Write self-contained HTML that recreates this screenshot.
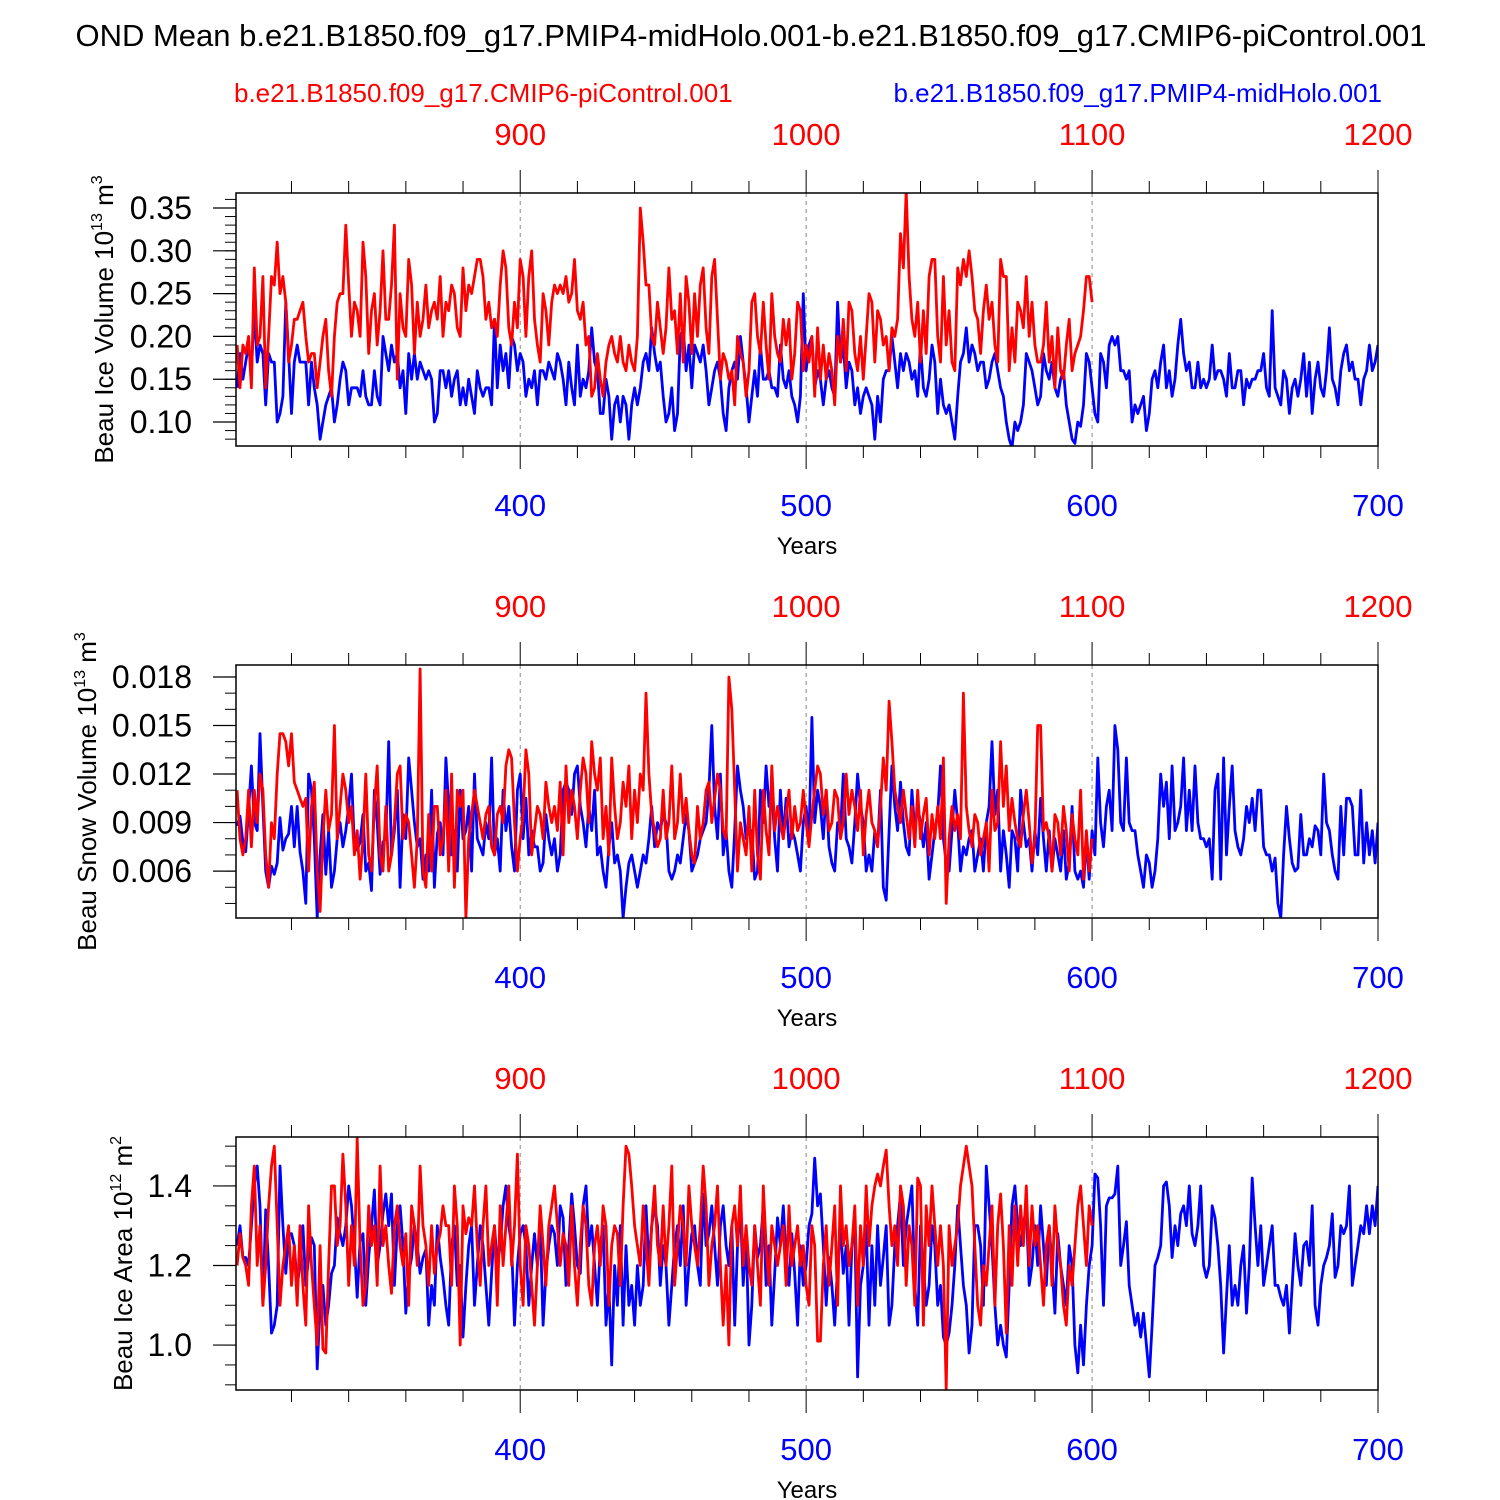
<!DOCTYPE html>
<html><head><meta charset="utf-8"><style>
html,body{margin:0;padding:0;background:#fff}
svg{display:block;font-family:"Liberation Sans",Arial,sans-serif}
</style></head><body>
<svg id="chart" width="1500" height="1500" viewBox="0 0 1500 1500" xmlns="http://www.w3.org/2000/svg">
<text x="751" y="46" font-size="31" text-anchor="middle">OND Mean b.e21.B1850.f09_g17.PMIP4-midHolo.001-b.e21.B1850.f09_g17.CMIP6-piControl.001</text>
<text x="234" y="102" font-size="26" fill="#ff0000">b.e21.B1850.f09_g17.CMIP6-piControl.001</text>
<text x="1382" y="102" font-size="26" fill="#0000ff" text-anchor="end">b.e21.B1850.f09_g17.PMIP4-midHolo.001</text>
<g id="plots"></g>
</svg>
<script>
const iceVolBlue=[0.14,0.18,0.15,0.17,0.19,0.16,0.23,0.17,0.19,0.18,0.12,0.18,0.17,0.17,0.10,0.11,0.13,0.24,0.18,0.11,0.17,0.19,0.17,0.17,0.17,0.12,0.17,0.14,0.12,0.08,0.10,0.12,0.13,0.14,0.10,0.12,0.15,0.17,0.16,0.12,0.14,0.14,0.14,0.13,0.16,0.13,0.12,0.12,0.16,0.13,0.12,0.20,0.18,0.16,0.19,0.17,0.18,0.14,0.16,0.11,0.18,0.15,0.18,0.15,0.17,0.16,0.15,0.16,0.15,0.10,0.11,0.16,0.16,0.14,0.16,0.13,0.15,0.16,0.12,0.14,0.12,0.15,0.13,0.11,0.16,0.14,0.13,0.14,0.14,0.12,0.22,0.14,0.19,0.16,0.18,0.14,0.20,0.19,0.16,0.18,0.17,0.13,0.15,0.14,0.16,0.12,0.16,0.16,0.15,0.17,0.16,0.15,0.18,0.17,0.15,0.12,0.17,0.14,0.12,0.19,0.13,0.15,0.14,0.16,0.21,0.17,0.16,0.11,0.11,0.15,0.13,0.08,0.12,0.13,0.10,0.13,0.12,0.08,0.12,0.14,0.12,0.14,0.17,0.18,0.16,0.21,0.18,0.16,0.17,0.13,0.10,0.11,0.14,0.09,0.11,0.20,0.21,0.16,0.19,0.14,0.19,0.18,0.17,0.19,0.16,0.12,0.14,0.16,0.17,0.15,0.11,0.09,0.14,0.16,0.17,0.15,0.20,0.17,0.14,0.10,0.13,0.16,0.13,0.19,0.15,0.15,0.16,0.14,0.14,0.13,0.19,0.15,0.14,0.16,0.13,0.12,0.10,0.13,0.25,0.16,0.19,0.20,0.14,0.16,0.15,0.12,0.15,0.16,0.14,0.13,0.24,0.17,0.19,0.14,0.17,0.16,0.12,0.14,0.11,0.13,0.14,0.13,0.12,0.08,0.13,0.10,0.15,0.16,0.16,0.20,0.17,0.14,0.18,0.16,0.18,0.17,0.15,0.16,0.13,0.19,0.14,0.13,0.15,0.19,0.17,0.11,0.15,0.12,0.11,0.12,0.10,0.08,0.13,0.17,0.18,0.21,0.17,0.19,0.18,0.16,0.17,0.17,0.14,0.15,0.17,0.18,0.16,0.14,0.13,0.10,0.08,0.07,0.10,0.09,0.10,0.12,0.18,0.17,0.16,0.14,0.12,0.13,0.18,0.16,0.15,0.17,0.14,0.13,0.15,0.16,0.12,0.10,0.08,0.075,0.10,0.095,0.12,0.18,0.17,0.14,0.11,0.10,0.18,0.17,0.14,0.19,0.20,0.19,0.20,0.16,0.16,0.15,0.16,0.10,0.12,0.11,0.12,0.13,0.09,0.11,0.15,0.16,0.14,0.17,0.19,0.14,0.16,0.13,0.15,0.19,0.22,0.18,0.16,0.17,0.14,0.14,0.17,0.14,0.15,0.14,0.15,0.19,0.15,0.16,0.16,0.15,0.13,0.18,0.14,0.14,0.16,0.16,0.12,0.15,0.14,0.15,0.15,0.16,0.16,0.18,0.14,0.13,0.23,0.14,0.13,0.12,0.16,0.15,0.11,0.14,0.15,0.13,0.15,0.18,0.13,0.17,0.11,0.15,0.17,0.14,0.13,0.16,0.21,0.15,0.14,0.12,0.16,0.18,0.19,0.16,0.17,0.15,0.15,0.12,0.15,0.16,0.19,0.16,0.17,0.19];
const iceVolRed=[0.19,0.14,0.19,0.18,0.20,0.14,0.28,0.19,0.20,0.27,0.14,0.20,0.27,0.26,0.31,0.25,0.27,0.24,0.17,0.19,0.22,0.22,0.23,0.24,0.20,0.17,0.18,0.18,0.14,0.17,0.20,0.22,0.16,0.13,0.20,0.24,0.25,0.25,0.33,0.26,0.20,0.24,0.23,0.20,0.31,0.27,0.18,0.23,0.25,0.19,0.23,0.30,0.22,0.22,0.26,0.33,0.15,0.25,0.21,0.20,0.29,0.26,0.18,0.24,0.20,0.22,0.26,0.21,0.23,0.24,0.22,0.27,0.20,0.24,0.23,0.26,0.25,0.21,0.20,0.28,0.23,0.26,0.25,0.27,0.29,0.29,0.27,0.22,0.24,0.21,0.22,0.20,0.26,0.30,0.28,0.21,0.19,0.24,0.21,0.29,0.27,0.20,0.27,0.30,0.22,0.19,0.17,0.25,0.23,0.19,0.24,0.26,0.25,0.26,0.25,0.27,0.24,0.25,0.29,0.23,0.22,0.24,0.19,0.20,0.13,0.14,0.18,0.15,0.13,0.17,0.19,0.20,0.18,0.17,0.20,0.17,0.16,0.19,0.17,0.16,0.20,0.35,0.31,0.26,0.26,0.20,0.19,0.24,0.21,0.18,0.21,0.28,0.22,0.23,0.18,0.25,0.17,0.27,0.24,0.18,0.25,0.20,0.26,0.28,0.21,0.18,0.27,0.29,0.22,0.15,0.18,0.17,0.15,0.16,0.12,0.20,0.18,0.17,0.13,0.16,0.24,0.25,0.20,0.18,0.24,0.19,0.15,0.25,0.20,0.18,0.17,0.22,0.19,0.22,0.15,0.18,0.24,0.23,0.16,0.19,0.17,0.20,0.13,0.21,0.15,0.19,0.15,0.18,0.16,0.12,0.20,0.17,0.22,0.16,0.24,0.23,0.18,0.16,0.20,0.15,0.20,0.25,0.24,0.17,0.23,0.22,0.19,0.20,0.16,0.21,0.20,0.22,0.32,0.28,0.37,0.27,0.22,0.20,0.24,0.17,0.23,0.18,0.27,0.29,0.29,0.20,0.17,0.27,0.19,0.23,0.17,0.16,0.28,0.26,0.29,0.27,0.30,0.27,0.23,0.22,0.18,0.23,0.26,0.22,0.24,0.19,0.17,0.29,0.27,0.27,0.16,0.21,0.17,0.24,0.23,0.21,0.27,0.20,0.24,0.19,0.17,0.17,0.19,0.24,0.17,0.20,0.14,0.21,0.16,0.15,0.19,0.22,0.16,0.18,0.19,0.20,0.23,0.27,0.27,0.24];
const snowBlue=[.0088,.0094,.0078,.0072,.0098,.0125,.0090,.0085,.0145,.0100,.0060,.0050,.0063,.0058,.0065,.0093,.0073,.0080,.0083,.0100,.0075,.0100,.0072,.0060,.0040,.0120,.0110,.0080,.0031,.0070,.0095,.0058,.0085,.0050,.0060,.0080,.0090,.0075,.0085,.0100,.0120,.0075,.0073,.0078,.0095,.0060,.0065,.0048,.0110,.0090,.0058,.0078,.0080,.0140,.0070,.0085,.0110,.0050,.0095,.0080,.0130,.0110,.0090,.0075,.0080,.0055,.0070,.0060,.0110,.0050,.0083,.0090,.0070,.0130,.0100,.0070,.0085,.0060,.0110,.0080,.0085,.0100,.0060,.0120,.0080,.0075,.0070,.0090,.0080,.0130,.0070,.0080,.0060,.0110,.0085,.0100,.0075,.0060,.0110,.0120,.0080,.0105,.0070,.0085,.0075,.0075,.0060,.0065,.0095,.0080,.0070,.0080,.0060,.0070,.0110,.0115,.0110,.0095,.0120,.0125,.0100,.0090,.0075,.0100,.0085,.0110,.0070,.0075,.0060,.0050,.0075,.0090,.0065,.0070,.0060,.0031,.0050,.0065,.0070,.0060,.0050,.0060,.0070,.0065,.0080,.0100,.0075,.0090,.0085,.0095,.0090,.0060,.0055,.0060,.0070,.0065,.0080,.0095,.0085,.0060,.0065,.0070,.0080,.0085,.0090,.0110,.0150,.0100,.0080,.0120,.0070,.0085,.0060,.0050,.0085,.0125,.0110,.0100,.0080,.0085,.0085,.0055,.0060,.0110,.0090,.0125,.0100,.0110,.0080,.0060,.0110,.0080,.0105,.0075,.0085,.0080,.0070,.0060,.0090,.0100,.0080,.0155,.0090,.0110,.0100,.0080,.0110,.0075,.0065,.0060,.0090,.0085,.0120,.0080,.0075,.0065,.0090,.0120,.0100,.0090,.0060,.0070,.0060,.0085,.0075,.0110,.0050,.0042,.0085,.0125,.0100,.0085,.0115,.0090,.0075,.0070,.0110,.0085,.0100,.0090,.0075,.0090,.0055,.0070,.0085,.0095,.0125,.0080,.0065,.0060,.0085,.0110,.0090,.0060,.0075,.0070,.0080,.0085,.0060,.0070,.0080,.0060,.0090,.0100,.0140,.0095,.0110,.0060,.0085,.0070,.0050,.0085,.0080,.0060,.0110,.0090,.0075,.0080,.0060,.0085,.0070,.0105,.0080,.0060,.0085,.0060,.0080,.0070,.0060,.0085,.0055,.0065,.0100,.0060,.0055,.0060,.0050,.0080,.0055,.0085,.0070,.0130,.0090,.0075,.0100,.0110,.0085,.0150,.0135,.0090,.0085,.0130,.0090,.0085,.0085,.0070,.0060,.0050,.0070,.0065,.0050,.0060,.0080,.0120,.0100,.0115,.0080,.0125,.0085,.0090,.0100,.0130,.0085,.0110,.0085,.0125,.0090,.0080,.0080,.0075,.0080,.0055,.0110,.0120,.0055,.0130,.0070,.0100,.0125,.0085,.0075,.0070,.0080,.0100,.0090,.0105,.0085,.0110,.0110,.0075,.0070,.0070,.0060,.0068,.0040,.0031,.0070,.0100,.0080,.0065,.0060,.0062,.0095,.0070,.0070,.0080,.0075,.0088,.0085,.0070,.0120,.0090,.0085,.0070,.0060,.0055,.0100,.0070,.0105,.0105,.0100,.0070,.0070,.0110,.0065,.0090,.0070,.0085,.0065,.0090];
const snowRed=[.0110,.0080,.0070,.0080,.0110,.0075,.0110,.0090,.0120,.0110,.0070,.0050,.0090,.0080,.0120,.0145,.0145,.0140,.0125,.0145,.0115,.0110,.0105,.0100,.0105,.0060,.0100,.0115,.0060,.0035,.0080,.0110,.0085,.0095,.0150,.0080,.0100,.0120,.0110,.0090,.0100,.0070,.0085,.0055,.0080,.0120,.0070,.0060,.0100,.0125,.0070,.0060,.0100,.0060,.0070,.0090,.0120,.0125,.0080,.0095,.0090,.0070,.0050,.0080,.0185,.0060,.0050,.0095,.0060,.0100,.0100,.0070,.0080,.0110,.0060,.0120,.0050,.0110,.0100,.0110,.0031,.0080,.0095,.0110,.0100,.0090,.0080,.0095,.0100,.0075,.0070,.0095,.0100,.0090,.0125,.0135,.0130,.0090,.0060,.0080,.0095,.0135,.0120,.0070,.0085,.0100,.0095,.0080,.0115,.0100,.0090,.0100,.0085,.0115,.0070,.0125,.0090,.0110,.0100,.0080,.0110,.0130,.0120,.0090,.0140,.0120,.0110,.0130,.0080,.0100,.0070,.0130,.0100,.0080,.0090,.0115,.0100,.0125,.0080,.0110,.0090,.0120,.0110,.0170,.0120,.0095,.0085,.0075,.0080,.0110,.0080,.0090,.0125,.0080,.0090,.0120,.0090,.0105,.0085,.0070,.0065,.0100,.0080,.0090,.0110,.0115,.0090,.0105,.0120,.0110,.0085,.0080,.0180,.0160,.0110,.0060,.0090,.0080,.0070,.0100,.0060,.0110,.0070,.0055,.0110,.0085,.0070,.0125,.0085,.0100,.0090,.0080,.0095,.0110,.0080,.0100,.0085,.0090,.0110,.0090,.0075,.0095,.0110,.0125,.0120,.0095,.0110,.0085,.0090,.0110,.0105,.0080,.0090,.0120,.0095,.0110,.0100,.0085,.0110,.0070,.0095,.0110,.0090,.0085,.0075,.0100,.0130,.0110,.0165,.0140,.0110,.0100,.0090,.0110,.0095,.0080,.0100,.0075,.0110,.0080,.0095,.0105,.0070,.0095,.0080,.0100,.0080,.0130,.0040,.0080,.0100,.0085,.0095,.0080,.0170,.0100,.0085,.0075,.0095,.0090,.0070,.0080,.0090,.0060,.0110,.0085,.0090,.0140,.0100,.0125,.0085,.0105,.0090,.0080,.0075,.0095,.0110,.0090,.0065,.0080,.0150,.0150,.0085,.0090,.0080,.0060,.0095,.0090,.0070,.0100,.0085,.0060,.0095,.0080,.0070,.0110,.0055,.0085,.0060,.0080];
const areaBlue=[1.25,1.30,1.22,1.22,1.20,1.30,1.40,1.45,1.35,1.10,1.34,1.20,1.03,1.05,1.10,1.45,1.30,1.18,1.28,1.28,1.25,1.15,1.20,1.30,1.15,1.22,1.27,1.25,0.94,1.10,1.15,1.05,1.10,1.18,1.20,1.32,1.28,1.25,1.30,1.40,1.35,1.25,1.12,1.26,1.28,1.10,1.22,1.30,1.39,1.20,1.25,1.33,1.38,1.30,1.38,1.15,1.30,1.35,1.25,1.08,1.18,1.22,1.30,1.25,1.18,1.22,1.24,1.05,1.15,1.10,1.30,1.22,1.17,1.10,1.05,1.25,1.30,1.15,1.20,1.02,1.15,1.25,1.30,1.10,1.20,1.30,1.25,1.15,1.05,1.18,1.30,1.20,1.25,1.35,1.40,1.30,1.25,1.05,1.20,1.28,1.30,1.25,1.10,1.20,1.28,1.20,1.30,1.05,1.18,1.25,1.30,1.28,1.20,1.35,1.32,1.15,1.25,1.38,1.30,1.20,1.18,1.35,1.40,1.25,1.30,1.20,1.10,1.25,1.30,1.05,1.15,0.95,1.20,1.10,1.30,1.05,1.25,1.10,1.15,1.05,1.20,1.10,1.15,1.35,1.20,1.30,1.35,1.30,1.15,1.25,1.20,1.05,1.15,1.25,1.30,1.20,1.35,1.10,1.20,1.28,1.30,1.20,1.15,1.38,1.25,1.28,1.35,1.25,1.15,1.30,1.35,1.25,1.20,1.30,1.05,1.25,1.35,1.15,1.28,1.00,1.10,1.30,1.22,1.25,1.35,1.15,1.25,1.05,1.18,1.32,1.25,1.35,1.22,1.15,1.28,1.18,1.05,1.25,1.15,1.20,1.30,1.33,1.47,1.35,1.38,1.25,1.10,1.22,1.15,1.05,1.20,1.30,1.18,1.25,1.05,1.25,1.30,0.92,1.15,1.20,1.30,1.05,1.25,1.10,1.30,1.15,1.22,1.30,1.05,1.10,1.25,1.30,1.38,1.20,1.30,1.35,1.40,1.15,1.05,1.30,1.20,1.10,1.15,1.30,1.25,1.10,1.15,1.02,1.00,1.03,1.10,1.20,1.35,1.25,1.15,1.10,0.98,1.05,1.30,1.30,1.25,1.10,1.45,1.35,1.25,1.10,1.00,1.05,1.00,0.97,1.15,1.35,1.40,1.30,1.25,1.30,1.35,1.15,1.20,1.30,1.20,1.35,1.25,1.15,1.30,1.20,1.08,1.28,1.20,1.15,1.10,1.25,1.20,1.00,0.93,1.05,0.95,1.10,1.20,1.25,1.43,1.42,1.30,1.10,1.35,1.37,1.37,1.38,1.45,1.20,1.25,1.31,1.15,1.10,1.05,1.08,1.02,1.08,1.00,0.92,1.05,1.20,1.22,1.25,1.40,1.41,1.35,1.22,1.30,1.25,1.33,1.35,1.30,1.40,1.28,1.25,1.30,1.40,1.20,1.17,1.20,1.35,1.32,1.25,1.15,0.98,1.12,1.25,1.10,1.15,1.10,1.20,1.25,1.08,1.20,1.42,1.30,1.20,1.30,1.15,1.20,1.25,1.30,1.15,1.15,1.12,1.10,1.15,1.03,1.15,1.28,1.20,1.15,1.25,1.26,1.20,1.35,1.10,1.05,1.15,1.20,1.22,1.25,1.33,1.17,1.20,1.30,1.28,1.30,1.40,1.15,1.20,1.25,1.30,1.28,1.35,1.28,1.35,1.30,1.40];
const areaRed=[1.20,1.28,1.22,1.20,1.15,1.35,1.45,1.20,1.30,1.10,1.20,1.35,1.45,1.50,1.30,1.10,1.20,1.25,1.30,1.15,1.25,1.10,1.30,1.15,1.05,1.35,1.20,1.10,1.00,1.25,0.99,0.98,1.20,1.40,1.40,1.25,1.30,1.48,1.35,1.15,1.30,1.20,1.52,1.25,1.10,1.15,1.35,1.25,1.30,1.15,1.45,1.25,1.30,1.20,1.13,1.30,1.35,1.25,1.20,1.28,1.10,1.35,1.30,1.20,1.45,1.30,1.25,1.15,1.30,1.18,1.25,1.28,1.35,1.30,1.30,1.15,1.40,1.30,1.00,1.35,1.28,1.32,1.30,1.40,1.25,1.15,1.30,1.40,1.20,1.25,1.30,1.10,1.35,1.20,1.30,1.40,1.20,1.30,1.48,1.20,1.10,1.30,1.25,1.15,1.05,1.20,1.35,1.25,1.15,1.30,1.35,1.40,1.30,1.20,1.28,1.25,1.15,1.35,1.20,1.10,1.25,1.35,1.30,1.15,1.10,1.25,1.30,1.20,1.35,1.30,1.10,1.25,1.30,1.28,1.15,1.35,1.50,1.48,1.40,1.30,1.25,1.20,1.35,1.25,1.15,1.30,1.40,1.25,1.20,1.35,1.20,1.30,1.45,1.15,1.25,1.35,1.30,1.20,1.40,1.30,1.25,1.20,1.30,1.45,1.35,1.15,1.25,1.30,1.40,1.20,1.05,1.20,1.00,1.30,1.35,1.25,1.40,1.20,1.30,1.20,1.15,1.30,1.20,1.10,1.40,1.25,1.15,1.30,1.25,1.20,1.25,1.30,1.15,1.35,1.20,1.25,1.30,1.20,1.25,1.15,1.10,1.30,1.25,1.01,1.01,1.20,1.30,1.15,1.25,1.35,1.10,1.40,1.25,1.30,1.20,1.25,1.35,1.10,1.30,1.20,1.40,1.25,1.35,1.40,1.43,1.40,1.45,1.49,1.35,1.25,1.30,1.20,1.40,1.35,1.15,1.30,1.25,1.10,1.42,1.40,1.05,1.35,1.25,1.40,1.30,1.20,1.30,1.20,0.89,1.30,1.20,1.25,1.30,1.40,1.45,1.50,1.45,1.40,1.25,1.10,1.05,1.20,1.15,1.25,1.35,1.10,1.30,1.38,1.25,1.03,1.30,1.15,1.35,1.20,1.35,1.25,1.40,1.20,1.35,1.25,1.30,1.20,1.10,1.25,1.30,1.15,1.35,1.25,1.20,1.10,1.05,1.20,1.15,1.25,1.35,1.40,1.30,1.20,1.35,1.30];
const blueStartYear=301, redStartYear=801;
const bottomTickLabels=["400","500","600","700"];
const topTickLabels=["900","1000","1100","1200"];
const panelTitles=["Beau Ice Volume","Beau Snow Volume","Beau Ice Area"];

const NS="http://www.w3.org/2000/svg";
const root=document.getElementById('plots');
function mk(tag,attrs,parent){const e=document.createElementNS(NS,tag);for(const k in attrs)e.setAttribute(k,attrs[k]);(parent||root).appendChild(e);return e;}
const X0=236,X1=1378,H=253;
function xBlue(yr){return X0+(yr-300.6)*(X1-X0)/(700-300.6);}
function xRed(yr){return xBlue(yr-500);}
const panels=[
 {top:193,min:0.0720,max:0.3675,majors:[0.10,0.15,0.20,0.25,0.30,0.35],fmt:v=>v.toFixed(2),minorStep:0.01,blue:iceVolBlue,red:iceVolRed,exp:"13",unit:"3",name:"ice-volume",tx:113},
 {top:665,min:0.0031,max:0.01874,majors:[0.006,0.009,0.012,0.015,0.018],fmt:v=>v.toFixed(3),minorStep:0.001,blue:snowBlue,red:snowRed,exp:"13",unit:"3",name:"snow-volume",tx:96},
 {top:1137,min:0.887,max:1.523,majors:[1.0,1.2,1.4],fmt:v=>v.toFixed(1),minorStep:0.05,blue:areaBlue,red:areaRed,exp:"12",unit:"2",name:"ice-area",tx:132}
];
panels.forEach((p,pi)=>{
 const g=mk('g',{});
 
 
 const yS=v=>p.top+H-(v-p.min)/(p.max-p.min)*H;
 const B=p.top+H;
 [400,500,600].forEach(yr=>{const l=mk('line',{x1:xBlue(yr),x2:xBlue(yr),y1:p.top,y2:B,stroke:'#888','stroke-width':1,'stroke-dasharray':'4,4'},g);
  
  });
 const cp=mk('clipPath',{id:'clip'+pi},g);mk('rect',{x:X0,y:p.top,width:X1-X0,height:H},cp);
 const sg=mk('g',{'clip-path':'url(#clip'+pi+')'},g);
 const mkS=(arr,start,xf,col,nm)=>{const pts=arr.map((v,i)=>xf(start+i).toFixed(1)+','+yS(v).toFixed(1)).join(' ');
  const pl=mk('polyline',{points:pts,fill:'none',stroke:col,'stroke-width':2.8,'stroke-linejoin':'round'},sg);
  
  };
 mkS(p.blue,blueStartYear,xBlue,'#0000ff',p.name+'-blue-line');
 mkS(p.red,redStartYear,xRed,'#ff0000',p.name+'-red-line');
 const fr=mk('rect',{x:X0,y:p.top,width:X1-X0,height:H,fill:'none',stroke:'#000','stroke-width':1.5},g);
 
 
 for(let v=Math.ceil(p.min/p.minorStep)*p.minorStep;v<=p.max+1e-9;v+=p.minorStep){
  mk('line',{x1:X0-11,x2:X0,y1:yS(v),y2:yS(v),stroke:'#000','stroke-width':1},g);}
 p.majors.forEach(v=>{mk('line',{x1:X0-23,x2:X0,y1:yS(v),y2:yS(v),stroke:'#000','stroke-width':1.2},g);
  const t=mk('text',{x:192,y:yS(v)+11,'font-size':32,'text-anchor':'end'},g);t.textContent=p.fmt(v);
  
  });
 for(let yr=320;yr<=700;yr+=20){const x=xBlue(yr);const maj=yr%100===0;
  mk('line',{x1:x,x2:x,y1:B,y2:B+(maj?23:12),stroke:'#000','stroke-width':1},g);
  mk('line',{x1:x,x2:x,y1:p.top,y2:p.top-(maj?23:12),stroke:'#000','stroke-width':1},g);}
 bottomTickLabels.forEach((s,i)=>{const t=mk('text',{x:xBlue(400+100*i),y:B+70,'font-size':31,'text-anchor':'middle',fill:'#0000ff'},g);t.textContent=s;
  
  });
 topTickLabels.forEach((s,i)=>{const t=mk('text',{x:xRed(900+100*i),y:p.top-48,'font-size':31,'text-anchor':'middle',fill:'#ff0000'},g);t.textContent=s;
  
  });
 const xt=mk('text',{x:807,y:B+108,'font-size':24,'text-anchor':'middle'},g);xt.textContent='Years';
 
 
 const cy=p.top+H/2;
 const yt=mk('text',{x:0,y:0,'font-size':26,'text-anchor':'middle',transform:`translate(${p.tx},${cy}) rotate(-90)`},g);
 
 
 const a=mk('tspan',{},yt);a.textContent=panelTitles[pi]+' 10';
 const b=mk('tspan',{dy:-11,'font-size':16},yt);b.textContent=p.exp;
 const c=mk('tspan',{dy:11},yt);c.textContent=' m';
 const d=mk('tspan',{dy:-11,'font-size':16},yt);d.textContent=p.unit;
});
</script>
</body></html>
